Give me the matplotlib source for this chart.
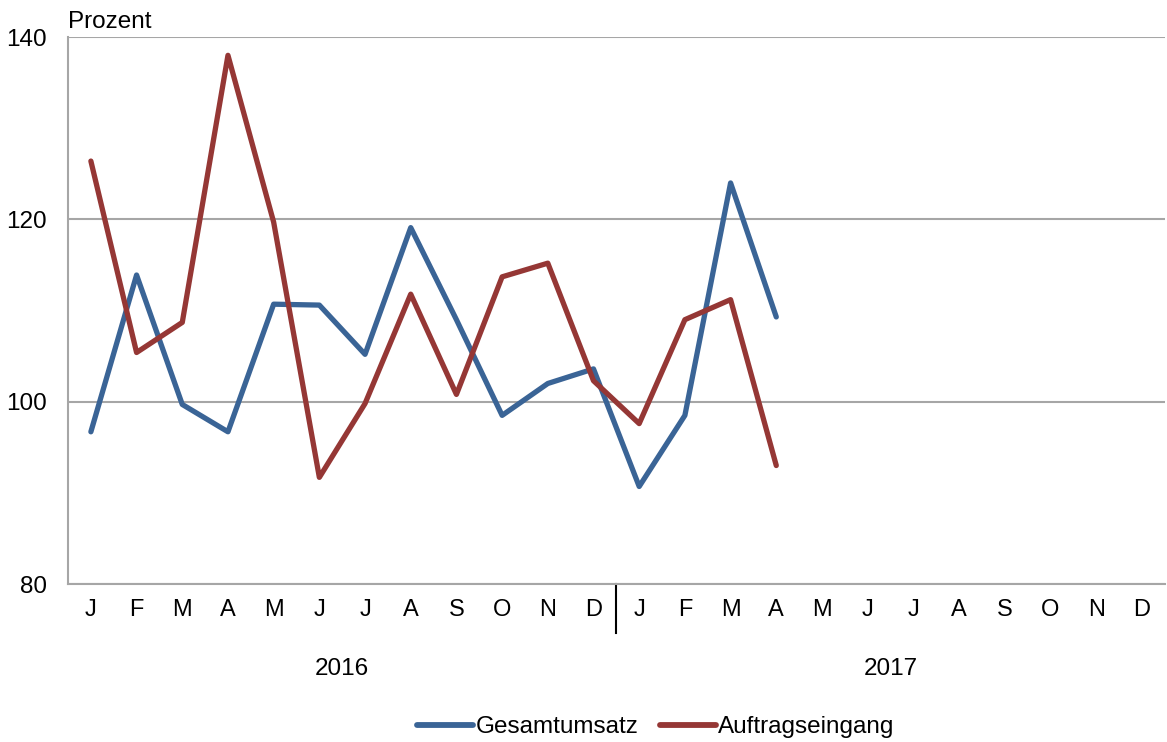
import matplotlib.pyplot as plt
from matplotlib.lines import Line2D
import numpy as np

plt.rcParams['font.family'] = ['Liberation Sans', 'DejaVu Sans']

months = ["J", "F", "M", "A", "M", "J", "J", "A", "S", "O", "N", "D"] * 2
years = ["2016", "2017"]
gesamtumsatz = [96.7, 113.9, 99.7, 96.7, 110.7, 110.6, 105.2, 119.1, 109.0, 98.5, 102.0, 103.6,
                90.7, 98.5, 124.0, 109.3]
auftragseingang = [126.4, 105.4, 108.7, 138.0, 119.7, 91.7, 99.8, 111.8, 100.8, 113.7, 115.2, 102.3,
                   97.6, 109.0, 111.2, 93.0]

blue = '#3A6496'
red = '#953735'
grid_gray = '#A6A6A6'

fig = plt.figure(figsize=(11.67, 7.42), dpi=100)
ax = fig.add_axes([0.0583, 0.2129, 0.9397, 0.7371])

x_all = np.arange(len(months))
ax.plot(np.arange(len(gesamtumsatz)), gesamtumsatz, color=blue, lw=3.8, solid_joinstyle='round', solid_capstyle='round')
ax.plot(np.arange(len(auftragseingang)), auftragseingang, color=red, lw=3.8, solid_joinstyle='round', solid_capstyle='round')

ax.set_xlim(-0.5, len(months) - 0.5)
ax.set_ylim(80, 140)
ax.set_yticks([80, 100, 120, 140])
ax.yaxis.grid(True, color=grid_gray, lw=1.5)
ax.set_axisbelow(True)
for s in ['top', 'right']:
    ax.spines[s].set_visible(False)
ax.spines['left'].set_color(grid_gray)
ax.spines['bottom'].set_color(grid_gray)
ax.spines['left'].set_linewidth(1.5)
ax.spines['bottom'].set_linewidth(1.5)
ax.tick_params(axis='y', length=0, pad=15.5, labelsize=17.5)
ax.tick_params(axis='x', length=0, pad=11, labelsize=17)
ax.set_xticks(x_all)
ax.set_xticklabels(months)

# year separator and labels
ax.plot([11.5, 11.5], [0, -0.09], transform=ax.get_xaxis_transform(), color='black', lw=1.5, clip_on=False)
for i, yr in enumerate(years):
    ax.text(5.5 + 12 * i, -0.155, yr, transform=ax.get_xaxis_transform(), ha='center', va='center', fontsize=17.5)

fig.text(0.0583, 0.970, "Prozent", ha='left', va='center', fontsize=17.5)

handles = [Line2D([], [], color=blue, lw=4.2, solid_capstyle='round'),
           Line2D([], [], color=red, lw=4.2, solid_capstyle='round')]
fig.legend(handles, ["Gesamtumsatz", "Auftragseingang"], loc='center', bbox_to_anchor=(0.562, 0.020),
           ncol=2, frameon=False, fontsize=17.5, handlelength=2.3, handletextpad=0.1, columnspacing=0.9)

fig.savefig("out.png", dpi=100)
